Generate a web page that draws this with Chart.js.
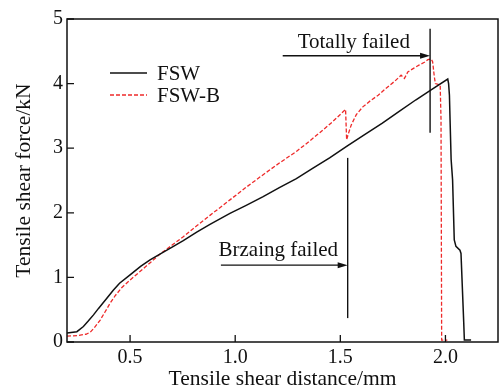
<!DOCTYPE html>
<html><head><meta charset="utf-8">
<script src="https://cdn.jsdelivr.net/npm/chart.js@4"></script>
<style>html,body{margin:0;padding:0;background:#fff;}#wrap{width:502px;height:391px;}</style>
</head><body><div id="wrap"><canvas id="c" width="502" height="391"></canvas></div>
<script>
// ---- data ----
const fswX = [0.20,0.247,0.278,0.30,0.326,0.35,0.373,0.40,0.42,0.45,0.50,0.55,0.595,0.642,0.70,0.753,0.817,0.88,0.975,1.05,1.133,1.21,1.291,1.37,1.449,1.53,1.61,1.70,1.78,1.86,1.93,2.011,2.015,2.019,2.022,2.027,2.034,2.042,2.050,2.069,2.074,2.087,2.090,2.122];
const fswY = [0.14,0.16,0.24,0.32,0.42,0.52,0.61,0.72,0.80,0.91,1.04,1.17,1.27,1.36,1.47,1.57,1.70,1.82,1.99,2.11,2.25,2.39,2.53,2.69,2.85,3.03,3.20,3.39,3.57,3.75,3.90,4.07,4.00,3.82,3.44,2.83,2.51,1.58,1.48,1.42,1.37,0.30,0.03,0.03];
const fswbX = [0.20,0.25,0.29,0.31,0.33,0.358,0.38,0.405,0.43,0.46,0.50,0.547,0.60,0.642,0.70,0.753,0.817,0.88,0.975,1.05,1.133,1.21,1.291,1.35,1.402,1.46,1.525,1.530,1.538,1.552,1.576,1.607,1.645,1.68,1.718,1.76,1.789,1.805,1.821,1.85,1.876,1.90,1.916,1.932,1.939,1.947,1.952,1.975,1.979,1.982,2.009];
const fswbY = [0.09,0.10,0.12,0.15,0.22,0.34,0.46,0.60,0.72,0.84,0.96,1.09,1.24,1.36,1.50,1.63,1.80,1.96,2.20,2.39,2.59,2.77,2.95,3.10,3.24,3.40,3.60,3.13,3.22,3.36,3.52,3.64,3.74,3.82,3.93,4.04,4.13,4.08,4.18,4.24,4.29,4.33,4.37,4.38,4.34,4.11,4.00,3.98,3.44,0.03,0.03];
const seriesNames = ['FSW','FSW-B'];
const xTicks = [0.5,1.0,1.5,2.0];
const yTicks = [0,1,2,3,4,5];
// annotations: [x, yBottom, yTop] / [xFrom, xTo, y] / [text, x, yBaseline]
const brazeMark = [1.535, 0.37, 2.85];
const brazeArrow = [0.932, 1.535, 1.19];
const brazeLabel = ['Brzaing failed', 1.205, 1.33];
const totalMark = [1.927, 3.24, 4.85];
const totalArrow = [1.226, 1.927, 4.43];
const totalLabel = ['Totally failed', 1.564, 4.547];

const FAM = '"Liberation Serif","Times New Roman",serif';
const INK = '#111';
const RED = 'rgb(238,42,42)';

const decor = {
  id: 'decor',
  afterDatasetsDraw(chart) {
    const {ctx, chartArea: a, scales: {x, y}} = chart;
    ctx.save();
    // frame
    ctx.strokeStyle = INK; ctx.lineWidth = 1.5; ctx.setLineDash([]);
    ctx.strokeRect(a.left, a.top, a.right - a.left, a.bottom - a.top);
    // inward ticks
    ctx.lineWidth = 1.3;
    ctx.beginPath();
    x.ticks.forEach(t => { const px = x.getPixelForValue(t.value); ctx.moveTo(px, a.bottom); ctx.lineTo(px, a.bottom - 7); });
    y.ticks.forEach(t => { const py = y.getPixelForValue(t.value); ctx.moveTo(a.left, py); ctx.lineTo(a.left + 7, py); });
    ctx.stroke();
    // annotations
    const vline = m => { ctx.beginPath(); ctx.moveTo(x.getPixelForValue(m[0]), y.getPixelForValue(m[1])); ctx.lineTo(x.getPixelForValue(m[0]), y.getPixelForValue(m[2])); ctx.stroke(); };
    const arrow = r => {
      const x0 = x.getPixelForValue(r[0]), x1 = x.getPixelForValue(r[1]), py = y.getPixelForValue(r[2]);
      ctx.beginPath(); ctx.moveTo(x0, py); ctx.lineTo(x1 - 6, py); ctx.stroke();
      ctx.beginPath(); ctx.moveTo(x1, py); ctx.lineTo(x1 - 10, py - 3); ctx.lineTo(x1 - 10, py + 3); ctx.closePath(); ctx.fill();
    };
    const label = l => {
      ctx.font = '21px ' + FAM; ctx.textAlign = 'center'; ctx.textBaseline = 'alphabetic';
      ctx.fillText(l[0], x.getPixelForValue(l[1]), y.getPixelForValue(l[2]));
    };
    ctx.fillStyle = INK; ctx.lineWidth = 1.4;
    vline(brazeMark); arrow(brazeArrow); label(brazeLabel);
    vline(totalMark); arrow(totalArrow); label(totalLabel);
    // legend
    const ds = chart.data.datasets;
    const lx = a.left + 43, rows = [a.top + 54, a.top + 76];
    ds.forEach((d, i) => {
      ctx.strokeStyle = d.borderColor; ctx.lineWidth = d.borderWidth; ctx.setLineDash(d.borderDash || []);
      ctx.beginPath(); ctx.moveTo(lx, rows[i]); ctx.lineTo(lx + 37, rows[i]); ctx.stroke();
      ctx.setLineDash([]);
      ctx.fillStyle = INK; ctx.font = '21px ' + FAM; ctx.textAlign = 'left'; ctx.textBaseline = 'middle';
      ctx.fillText(d.label, lx + 47, rows[i] + 1);
    });
    ctx.restore();
  }
};

new Chart(document.getElementById('c'), {
  type: 'line',
  data: {
    datasets: [
      { label: seriesNames[0], data: fswX.map((v, i) => ({x: v, y: fswY[i]})), borderColor: INK, borderWidth: 1.5, pointRadius: 0, fill: false, tension: 0 },
      { label: seriesNames[1], data: fswbX.map((v, i) => ({x: v, y: fswbY[i]})), borderColor: RED, borderWidth: 1.3, borderDash: [4, 2], pointRadius: 0, fill: false, tension: 0 }
    ]
  },
  options: {
    responsive: false, animation: false, devicePixelRatio: 1,
    layout: { padding: { top: 19, right: 4, left: 0, bottom: 0 } },
    plugins: { legend: { display: false }, tooltip: { enabled: false } },
    scales: {
      x: {
        type: 'linear', min: 0.2, max: 2.25,
        afterBuildTicks: s => { s.ticks = xTicks.map(v => ({value: v})); },
        ticks: { callback: v => Number(v).toFixed(1), font: { family: FAM, size: 20 }, color: INK, padding: 4, maxRotation: 0, autoSkip: false },
        grid: { display: false, drawTicks: false }, border: { display: false },
        title: { display: true, text: 'Tensile shear distance/mm', font: { family: FAM, size: 21.5, lineHeight: 1.1 }, color: INK, padding: { top: 0, bottom: 0 } },
        afterFit: s => { s.height = 49; }
      },
      y: {
        type: 'linear', min: 0, max: 5,
        afterBuildTicks: s => { s.ticks = yTicks.map(v => ({value: v})); },
        ticks: { callback: v => String(v), font: { family: FAM, size: 20 }, color: INK, padding: 4 },
        grid: { display: false, drawTicks: false }, border: { display: false },
        title: { display: true, text: 'Tensile shear force/kN', font: { family: FAM, size: 21.5, lineHeight: 1.1 }, color: INK, padding: { top: 13, bottom: 0 } },
        afterFit: s => { s.width = 67; }
      }
    }
  },
  plugins: [decor]
});
</script></body></html>
